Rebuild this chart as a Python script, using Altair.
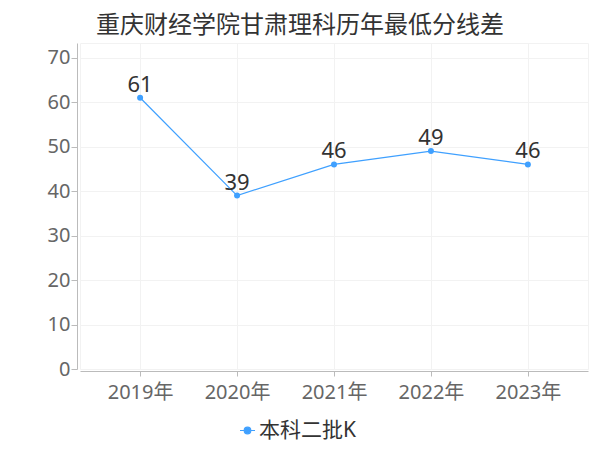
import altair as alt
import pandas as pd

years = ["2019年", "2020年", "2021年", "2022年", "2023年"]
values = [61, 39, 46, 49, 46]
series = ["本科二批K"] * 5

df = pd.DataFrame({"year": years, "value": values, "series": series})

FONT = "Noto Sans, Noto Sans CJK SC, sans-serif"
BLUE = "#3fa0ff"

legend_symbol = ("M -1 0 L -0.44 0 M 0.44 0 L 1 0 "
                 "M -0.44 0 A 0.44 0.44 0 1 1 0.44 0 A 0.44 0.44 0 1 1 -0.44 0 Z")

x = alt.X("year:N", sort=years, title=None,
          scale=alt.Scale(type="point", padding=0.62),
          axis=alt.Axis(labelAngle=0, labelFontSize=20, labelColor="#666666", labelFont=FONT,
                        domainColor="#bbbbbb", tickColor="#bbbbbb", tickSize=5, labelPadding=6,
                        offset=2, grid=True, gridColor="#f2f2f2"))
y = alt.Y("value:Q", title=None,
          scale=alt.Scale(domain=[0, 73.3], nice=False),
          axis=alt.Axis(values=[0, 10, 20, 30, 40, 50, 60, 70], labelFontSize=20, labelColor="#666666",
                        labelFont=FONT, domainColor="#bbbbbb", tickColor="#bbbbbb", tickSize=6,
                        labelPadding=1, offset=3, grid=True, gridColor="#f2f2f2"))
color = alt.Color("series:N", title=None,
                  scale=alt.Scale(range=[BLUE]),
                  legend=alt.Legend(orient="none", legendX=157, legendY=377, direction="horizontal",
                                    symbolType=legend_symbol, symbolSize=225, symbolStrokeWidth=1.2,
                                    symbolFillColor=BLUE, symbolStrokeColor=BLUE,
                                    labelFontSize=21, labelFont=FONT, labelColor="#333333",
                                    labelOffset=1))

base = alt.Chart(df)
line = base.mark_line(strokeWidth=1.2).encode(x=x, y=y, color=color)
pts = base.mark_point(filled=True, size=36, opacity=1).encode(x=x, y=y, color=color)
labels = base.mark_text(fontSize=22, font=FONT, color="#333333", baseline="alphabetic", dy=-6).encode(
    x=x, y=y, text="value:Q")

chart = alt.layer(line, pts, labels).properties(
    width=508, height=326,
    title=alt.TitleParams("重庆财经学院甘肃理科历年最低分线差", anchor="start", frame="group", dx=16,
                          fontSize=24, font=FONT, fontWeight="normal", color="#333333", offset=5),
    autosize=alt.AutoSizeParams(type="none"),
    padding={"left": 72, "top": 35, "right": 4, "bottom": 75},
).configure_view(stroke="#f2f2f2")

chart.save("out.html", embed_options={"renderer": "svg", "actions": False})
